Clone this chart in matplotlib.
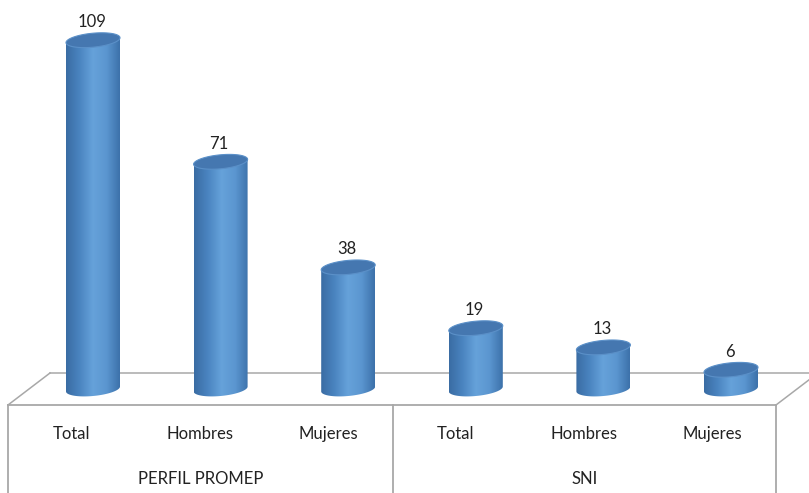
import numpy as np
import matplotlib
matplotlib.use("Agg")
import matplotlib.pyplot as plt
from matplotlib.patches import Polygon
from matplotlib.colors import LinearSegmentedColormap

plt.rcParams['font.family'] = ['Lato', 'DejaVu Sans']

# datos
grupos = ['PERFIL PROMEP', 'SNI']
categorias = ['Total', 'Hombres', 'Mujeres', 'Total', 'Hombres', 'Mujeres']
valores = [109, 71, 38, 19, 13, 6]

W, H = 809, 493
fig = plt.figure(figsize=(W / 100, H / 100), dpi=100)
fig.patch.set_facecolor('white')

# fondo: piso en perspectiva + tabla de etiquetas (coordenadas en pixeles)
bg = fig.add_axes([0, 0, 1, 1])
bg.set_xlim(0, W)
bg.set_ylim(H, 0)
bg.set_axis_off()

gris = '#a8a8a8'
x0, x1, y_front = 8, 776, 405
dx_back, dy_back = 42, 32
bg.plot([x0, x1], [y_front, y_front], color=gris, lw=1.3)
bg.plot([x0, x0 + dx_back], [y_front, y_front - dy_back], color=gris, lw=1.1)
bg.plot([x0 + dx_back, W + 30], [y_front - dy_back, y_front - dy_back], color=gris, lw=1.1)
bg.plot([x1, x1 + dx_back], [y_front, y_front - dy_back], color=gris, lw=1.1)
x_mid = (x0 + x1) / 2 + 1
for xv in (x0, x_mid, x1):
    bg.plot([xv, xv], [y_front, H + 5], color=gris, lw=1.3)

celda = (x1 - x0) / len(categorias)
for i, c in enumerate(categorias):
    bg.text(x0 + celda * (i + 0.5), 434, c, ha='center', va='center',
            fontsize=12, color='#222222')
for g, (a, b) in zip(grupos, [(x0, x_mid), (x_mid, x1)]):
    bg.text((a + b) / 2, 479, g, ha='center', va='center', fontsize=12, color='#222222')

# ejes de las barras (coordenadas de datos)
px_cat = 127.6
px_val = 3.2
left_px = 93 - 0.5 * px_cat
base_px = 389
ymin, ymax = -8, 116
ax = fig.add_axes([left_px / W, (H - base_px + ymin * px_val) / H,
                   6 * px_cat / W, (ymax - ymin) * px_val / H])
ax.patch.set_alpha(0)
ax.set_axis_off()
ax.set_autoscale_on(False)

a = 27 / px_cat            # semiancho del cilindro
b = 7 / px_val             # semialto de la elipse
k = 0.09 * px_cat / px_val  # inclinacion de la elipse

cmap = LinearSegmentedColormap.from_list(
    'cil', ['#3a6ca3', '#4a84c0', '#66a2da', '#5b96d0', '#3c71aa'], N=256)
grad = np.linspace(0, 1, 256)[None, :]

t_bot = np.linspace(np.pi, 2 * np.pi, 60)
t_all = np.linspace(0, 2 * np.pi, 120)
for i, v in enumerate(valores):
    cuerpo = [(i + a * np.cos(t), b * np.sin(t) + k * a * np.cos(t)) for t in t_bot]
    cuerpo += [(i + a, v + k * a), (i - a, v - k * a)]
    poly = Polygon(cuerpo, closed=True, facecolor='none', edgecolor='none')
    ax.add_patch(poly)
    im = ax.imshow(grad, cmap=cmap, extent=[i - a, i + a, -b - k * a - 1, v + k * a + 1],
                   aspect='auto', interpolation='bilinear', zorder=2)
    im.set_clip_path(poly)
    tapa = [(i + a * np.cos(t), v + b * np.sin(t) + k * a * np.cos(t)) for t in t_all]
    ax.add_patch(Polygon(tapa, closed=True, facecolor='#4577b0', edgecolor='#5b90c8',
                         lw=0.8, zorder=3))
    ax.annotate(str(v), (i, v), xytext=(-1, 9.5), textcoords='offset points',
                ha='center', va='baseline', fontsize=12, color='#222222')

ax.set_xlim(-0.5, 5.5)
ax.set_ylim(ymin, ymax)

fig.savefig('out.png', dpi=100)
